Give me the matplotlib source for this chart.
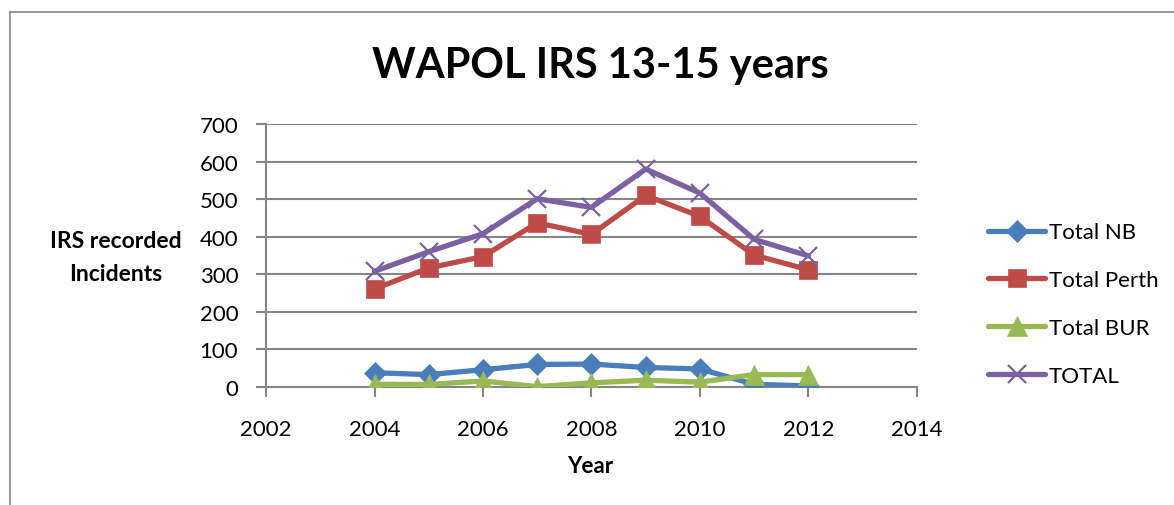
import matplotlib.pyplot as plt
from matplotlib.lines import Line2D

plt.rcParams['font.family'] = ['Lato', 'DejaVu Sans']

years = [2004, 2005, 2006, 2007, 2008, 2009, 2010, 2011, 2012]
total_nb = [38, 33, 46, 60, 61, 52, 48, 7, 3]
total_perth = [261, 317, 347, 437, 406, 510, 454, 351, 312]
total_bur = [7, 7, 16, 1, 11, 18, 13, 33, 33]
total_all = [308, 360, 408, 501, 478, 580, 516, 393, 349]

series = [
    ('Total NB', total_nb, '#4A7EBB', 'D', 11),
    ('Total Perth', total_perth, '#BE4B48', 's', 13),
    ('Total BUR', total_bur, '#98B954', '^', 14),
    ('TOTAL', total_all, '#7D60A0', 'x', 13),
]

fig = plt.figure(figsize=(11.74, 5.06), dpi=100)
ax = fig.add_axes([0.2266, 0.2332, 0.781 - 0.2266, 0.753 - 0.2332])

for name, vals, col, mk, ms in series:
    ax.plot(years, vals, color=col, lw=3.8, marker=mk, markersize=ms,
            markeredgewidth=1.6 if mk == 'x' else 0.5, markeredgecolor=col,
            label=name, solid_capstyle='round', zorder=3)

ax.set_xlim(2002, 2014)
ax.set_ylim(0, 700)
ax.set_xticks(range(2002, 2015, 2))
ax.set_yticks(range(0, 701, 100))
ax.yaxis.grid(True, color='#868686', lw=1.5)
ax.set_axisbelow(True)
for s in ['top', 'right']:
    ax.spines[s].set_visible(False)
for s in ['left', 'bottom']:
    ax.spines[s].set_color('#868686')
    ax.spines[s].set_linewidth(1.5)
ax.tick_params(axis='both', colors='#868686', labelcolor='black', labelsize=16,
               length=7, width=1.5, direction='out')
ax.tick_params(axis='y', pad=13)
ax.tick_params(axis='x', pad=16)

fig.text(0.511, 0.87, 'WAPOL IRS 13-15 years', ha='center', va='center',
         fontsize=30, fontweight='bold')
fig.text(0.099, 0.49, 'IRS recorded\nIncidents', ha='center', va='center',
         fontsize=16.5, fontweight='bold', linespacing=1.75)
fig.text(0.503, 0.079, 'Year', ha='center', va='center',
         fontsize=16, fontweight='bold')

ax.legend(loc='center left', bbox_to_anchor=(1.078, 0.315), frameon=False,
          fontsize=16, labelspacing=1.25, handlelength=2.6, handletextpad=0.15)

# outer chart frame
fig.add_artist(Line2D([0.0085, 0.0085], [0, 0.974], color='#888888', lw=1.2,
                      transform=fig.transFigure))
fig.add_artist(Line2D([0.0085, 1], [0.974, 0.974], color='#888888', lw=1.2,
                      transform=fig.transFigure))

fig.savefig('out.png', dpi=100)
